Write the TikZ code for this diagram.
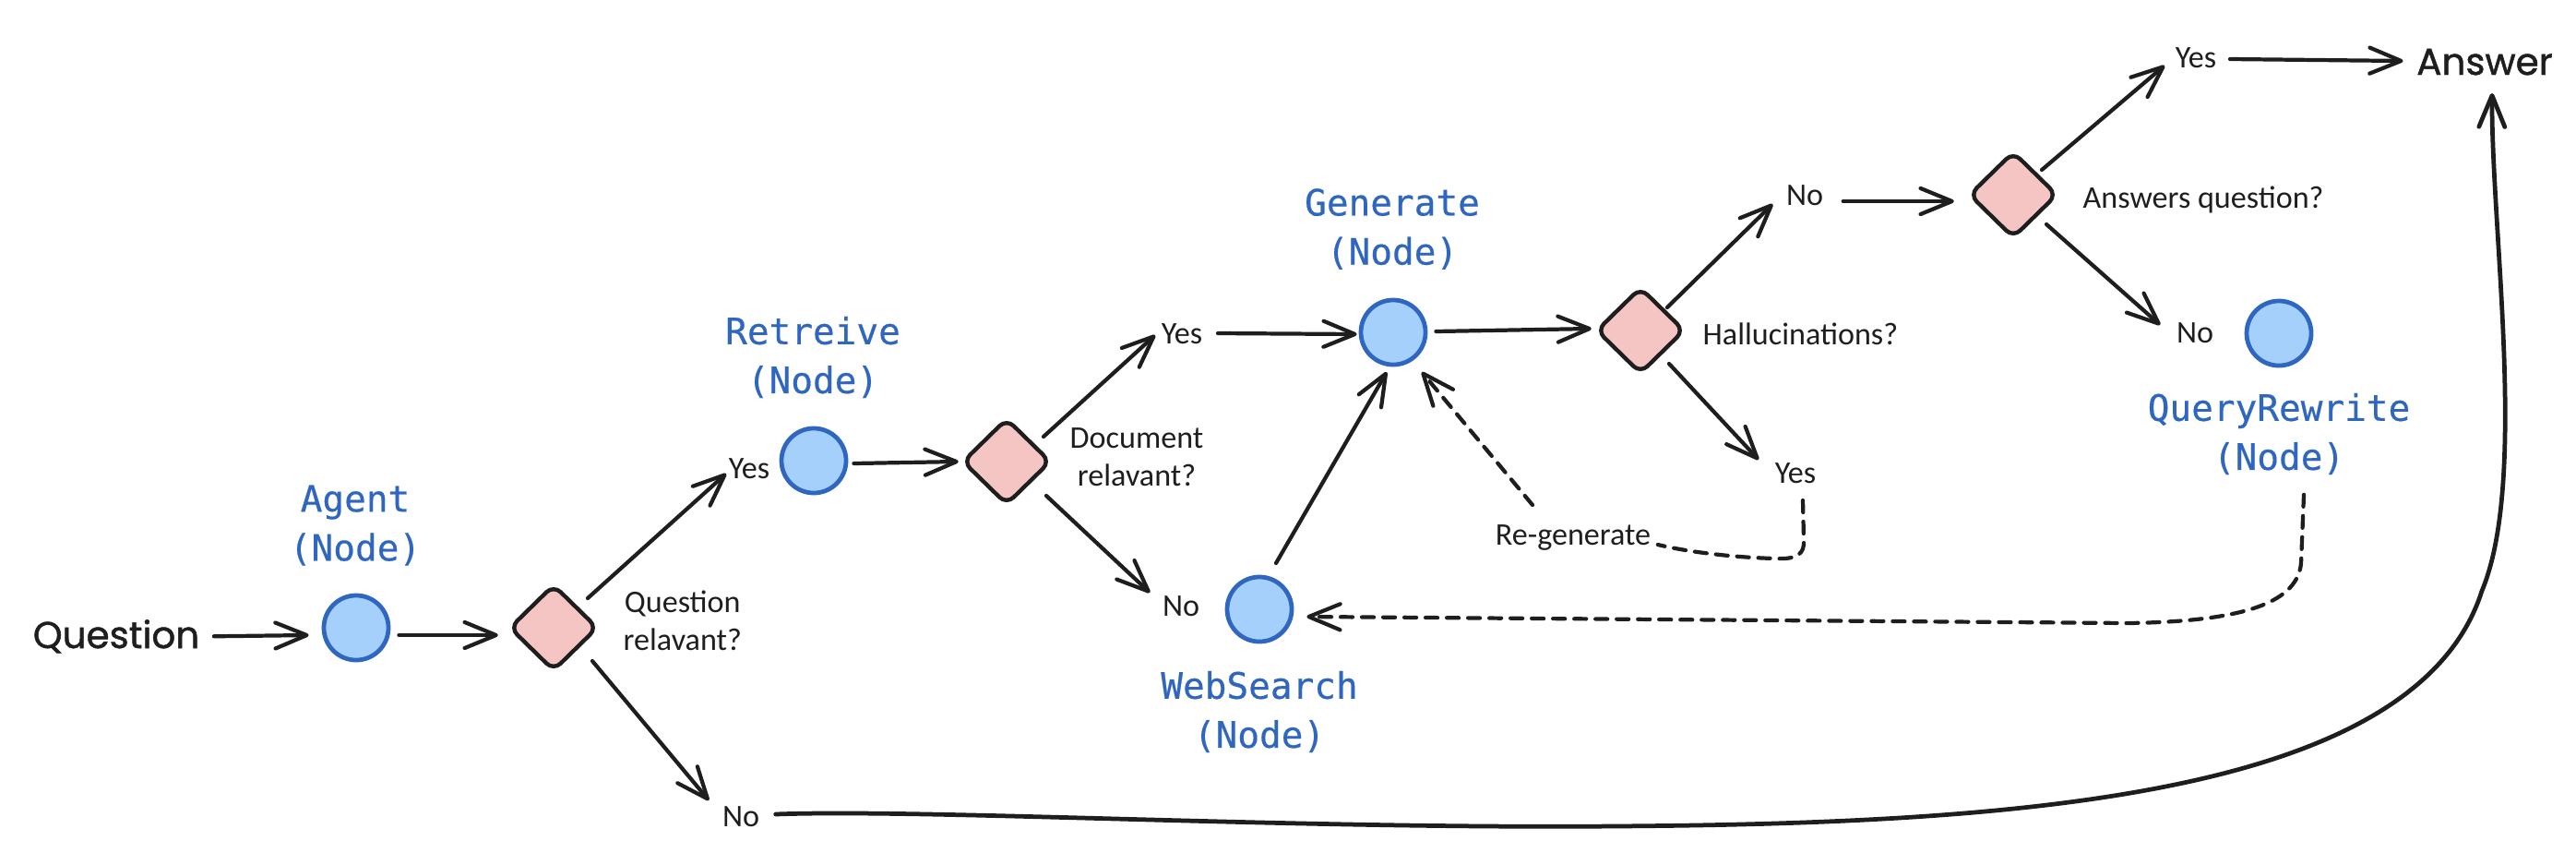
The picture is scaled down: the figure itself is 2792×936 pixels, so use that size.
\documentclass[tikz,border=0pt]{standalone}
\usepackage{fontspec}
\setmainfont{Carlito}
\newfontfamily\monof[FakeBold=0.5]{DejaVu Sans Mono}
\newfontfamily\handf[FakeBold=1.2]{Poppins}
\usetikzlibrary{arrows.meta,shapes.geometric,calc}
\definecolor{ink}{HTML}{1E1E1E}
\definecolor{nblue}{HTML}{2F66BF}
\definecolor{cfill}{HTML}{A5D0FB}
\definecolor{dfill}{HTML}{F5C5C4}
\begin{document}
\begin{tikzpicture}[x=0.01cm,y=-0.01cm,
  circ/.style={circle,minimum size=0.70cm,inner sep=0pt,fill=cfill,draw=nblue,line width=1.35pt},
  dia/.style={diamond,minimum width=0.96cm,minimum height=0.94cm,inner sep=0pt,fill=dfill,draw=ink,line width=1.25pt,rounded corners=3pt},
  lbl/.style={font=\fontsize{9.7}{11.7}\selectfont,text=ink,inner sep=0pt,align=center},
  nlbl/.style={font=\monof\fontsize{11.2}{15.1}\selectfont,text=nblue,inner sep=0pt,align=center},
  hand/.style={font=\handf\fontsize{11.5}{14}\selectfont,text=ink,inner sep=0pt},
  conn/.style={draw=ink,line width=1.2pt,line cap=round,line join=round},
  arr/.style={conn,-{Straight Barb[length=0.34cm,width=0.28cm,round]}},
  dsh/.style={dash pattern=on 0.13cm off 0.1cm}
]
\useasboundingbox (0,0) rectangle (2792,936);

% nodes
\node[hand,anchor=base] (q) at (126,702) {Question};
\node[circ] (A) at (386,680) {};
\node[nlbl] (Al) at (385,569) {Agent\\(Node)};
\node[dia] (d1) at (600,680) {};
\node[lbl,anchor=west] (qrel) at (675,672) {Question\\relavant?};
\node[lbl,anchor=base] (y1) at (812,518) {Yes};
\node[lbl,anchor=base] (n1) at (803,895) {No};
\node[circ] (R) at (882,499) {};
\node[nlbl] (Rl) at (881,387) {Retreive\\(Node)};
\node[dia] (d2) at (1091,500) {};
\node[lbl,anchor=west] (drel) at (1159,495) {Document\\relavant?};
\node[lbl,anchor=base] (y2) at (1281,372) {Yes};
\node[lbl,anchor=base] (n2) at (1280,667) {No};
\node[circ] (W) at (1365,660) {};
\node[nlbl] (Wl) at (1365,771) {WebSearch\\(Node)};
\node[circ] (G) at (1510,360) {};
\node[nlbl] (Gl) at (1509,248) {Generate\\(Node)};
\node[dia] (d3) at (1778,358) {};
\node[lbl,anchor=base west] (hal) at (1845,373) {Hallucinations?};
\node[lbl,anchor=base] (n3) at (1956,222) {No};
\node[lbl,anchor=base] (y3) at (1946,523) {Yes};
\node[lbl,anchor=base] (rg) at (1705,590) {Re-generate};
\node[dia] (d4) at (2182,211) {};
\node[lbl,anchor=base west] (aq) at (2257,225) {Answers question?};
\node[lbl,anchor=base] (y4) at (2380,73) {Yes};
\node[lbl,anchor=base] (n4) at (2379,371) {No};
\node[circ] (QR) at (2470,361) {};
\node[nlbl] (QRl) at (2470,470) {QueryRewrite\\(Node)};
\node[hand,anchor=base] (ans) at (2693,81) {Answer};

% connectors
\draw[arr] ($(q.east)+(15,0)$) -- ($(A.west)+(-14,8)$);
\draw[arr] ($(A.east)+(9,8)$) -- ($(d1.west)+(-10,8)$);
\draw[arr] ($(d1)+(37,-32)$) -- ($(y1.base west)+(-2,-5)$);
\draw[arr] ($(d1)+(42,36)$) -- ($(n1.base west)+(-14,-28)$);
\draw[arr] ($(R.east)+(6,3)$) -- ($(d2.west)+(-2,0)$);
\draw[arr] ($(d2)+(40,-27)$) -- ($(y2.base west)+(-6,-9)$);
\draw[arr] ($(d2)+(43,37)$) -- ($(n2.base west)+(-13,-25)$);
\draw[arr] ($(y2.base east)+(16,-11)$) -- ($(G.west)+(-2,2)$);
\draw[arr] ($(W)+(18,-50)$) -- ($(G)+(-7,43)$);
\draw[arr] ($(G.east)+(9,-1)$) -- ($(d3.west)+(-3,-2)$);
\draw[arr] ($(d3)+(29,-25)$) -- ($(n3.base west)+(-14,-1)$);
\draw[arr] ($(d3)+(31,36)$) -- ($(y3.base west)+(-17,-25)$);
\draw[arr] ($(n3.base east)+(21,-4)$) -- ($(d4.west)+(-14,7)$);
\draw[arr] ($(d4)+(31,-27)$) -- ($(y4.base west)+(-11,-2)$);
\draw[arr] ($(d4)+(36,32)$) -- ($(n4.base west)+(-17,-19)$);
\draw[arr] ($(y4.base east)+(14,-9)$) -- ($(ans.base west)+(-14,-15)$);
\draw[arr,line width=1.35pt] ($(n1.base east)+(17,-13)$) .. controls (1000,876) and (1400,898) .. (1750,895)
   .. controls (2200,892) and (2620,860) .. (2690,640)
   .. controls (2740,520) and (2700,250) .. ($(ans.base)+(8,20)$);
% dashed
\draw[conn,dsh] ($(y3.base)+(8,19)$) -- (1955,585) .. controls (1956,600) and (1948,606) .. (1925,605)
   .. controls (1880,604) and (1830,598) .. ($(rg.base east)+(7,0)$);
\draw[arr,dsh] ($(rg.base)+(-44,-43)$) -- ($(G)+(31,43)$);
\draw[arr,dsh] ($(QRl.south)+(27,21)$) -- (2494,610) .. controls (2490,650) and (2440,673) .. (2307,675)
   -- ($(W.east)+(14,8)$);
\end{tikzpicture}
\end{document}
